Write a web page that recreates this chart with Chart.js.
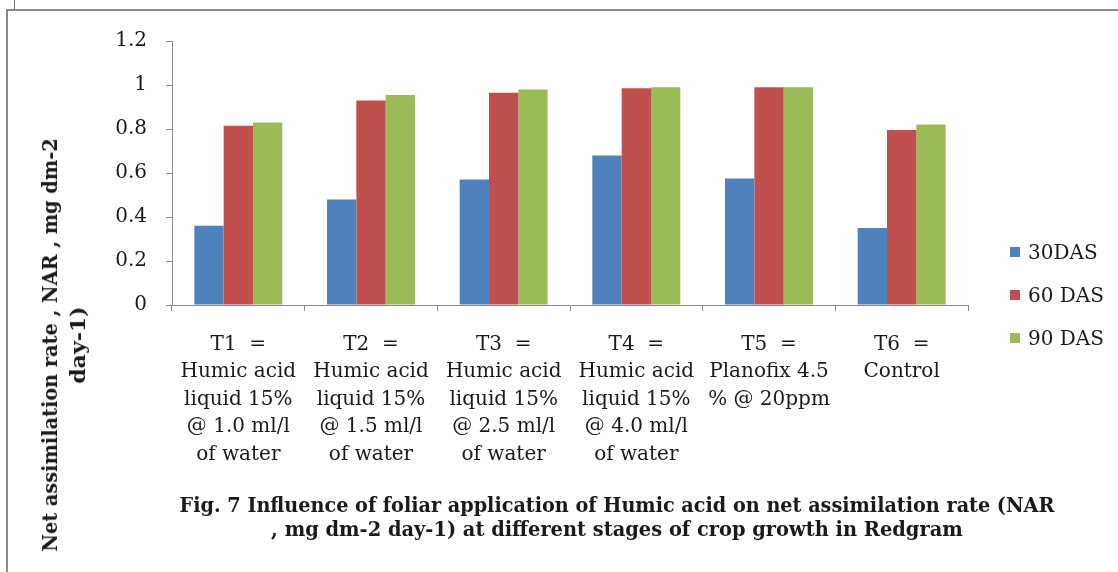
<!DOCTYPE html>
<html><head><meta charset="utf-8">
<script src="https://cdn.jsdelivr.net/npm/chart.js@4/dist/chart.umd.min.js"></script>
<style>
html,body{margin:0;padding:0;background:#fff;}
#wrap{position:relative;width:1118px;height:572px;overflow:hidden;font-family:"DejaVu Serif",serif;color:#1a1a1a;background:#fff;}
#c{position:absolute;left:0;top:0;}
.topline{position:absolute;left:6px;top:9px;width:1112px;height:2px;background:#8a8a8a;}
.leftline{position:absolute;left:6px;top:9px;width:2px;height:563px;background:#8a8a8a;}
.stub{position:absolute;left:14px;top:0;width:1px;height:9px;background:#777;}
.ytitle{position:absolute;left:64px;top:345px;transform:translate(-50%,-50%) rotate(-90deg);font-weight:bold;font-size:20px;line-height:28px;text-align:center;white-space:nowrap;}
.caption{position:absolute;left:617px;top:493px;transform:translateX(-50%);font-weight:bold;font-size:20px;line-height:24px;text-align:center;white-space:nowrap;}
.fit{display:block;}
.fit span{display:inline-block;transform-origin:center center;}
.legend{position:absolute;left:1010px;top:0;font-size:20px;}
.legend .item{position:absolute;left:0;white-space:nowrap;height:24px;line-height:24px;}
.legend .sw{position:absolute;left:0;top:7px;width:10px;height:10px;}
.legend .tx{position:absolute;left:18px;top:0;}
</style>
</head><body>
<div id="wrap">
  <canvas id="c" width="1118" height="572"></canvas>
  <div class="topline"></div>
  <div class="leftline"></div>
  <div class="stub"></div>
  <div class="ytitle" id="ytitle"></div>
  <div class="caption" id="caption"></div>
  <div class="legend" id="legend"></div>
</div>
<script>
// ---- data ----
const categories = [
  ["T1  =", "Humic acid", "liquid 15%", "@ 1.0 ml/l", "of water"],
  ["T2  =", "Humic acid", "liquid 15%", "@ 1.5 ml/l", "of water"],
  ["T3  =", "Humic acid", "liquid 15%", "@ 2.5 ml/l", "of water"],
  ["T4  =", "Humic acid", "liquid 15%", "@ 4.0 ml/l", "of water"],
  ["T5  =", "Planofix 4.5", "% @ 20ppm"],
  ["T6  =", "Control"]
];
const seriesNames = ["30DAS", "60 DAS", "90 DAS"];
const das30 = [0.36, 0.48, 0.57, 0.68, 0.575, 0.35];
const das60 = [0.815, 0.93, 0.965, 0.985, 0.99, 0.795];
const das90 = [0.83, 0.955, 0.98, 0.99, 0.99, 0.82];
const yTicks = [0, 0.2, 0.4, 0.6, 0.8, 1, 1.2];
const yTitleLines = ["Net assimilation rate , NAR , mg dm-2", "day-1)"];
const captionLines = ["Fig. 7 Influence of foliar application of Humic acid on net assimilation rate (NAR", ", mg dm-2 day-1) at different stages of crop growth in Redgram"];

// ---- styles ----
const colors = ["#4F81BD", "#C0504D", "#9BBB59"];
const axisColor = "#8a8a8a";
const tickFont = {family: "'DejaVu Serif', serif", size: 20, lineHeight: 1.375};

const values = [das30, das60, das90];
const chart = new Chart(document.getElementById('c'), {
  type: 'bar',
  data: {
    labels: categories,
    datasets: seriesNames.map((n, i) => ({
      label: n, data: values[i], backgroundColor: colors[i], borderWidth: 0,
      barPercentage: 1, categoryPercentage: 0.663
    }))
  },
  options: {
    responsive: false, animation: false,
    layout: {padding: {top: 41, right: 150, left: 0, bottom: 0}},
    plugins: {legend: {display: false}, title: {display: false}, tooltip: {enabled: false}},
    scales: {
      x: {
        grid: {display: true, drawOnChartArea: false, drawTicks: true, tickLength: 6, color: axisColor, offset: true},
        border: {color: axisColor, width: 1},
        ticks: {font: tickFont, color: '#1a1a1a', padding: 20, maxRotation: 0, minRotation: 0, autoSkip: false},
        afterFit(s) { s.height = 267; }
      },
      y: {
        min: 0, max: 1.2,
        afterBuildTicks(s) { s.ticks = yTicks.map(v => ({value: v})); },
        grid: {display: true, drawOnChartArea: false, drawTicks: true, tickLength: 6, color: axisColor},
        border: {color: axisColor, width: 1},
        ticks: {font: tickFont, color: '#1a1a1a', padding: 19, callback: v => String(Math.round(v * 10) / 10)},
        afterFit(s) { s.width = 172; }
      }
    }
  }
});

// ---- HTML text overlays ----
function fitLines(el, lines, widths) {
  lines.forEach((t, i) => {
    const d = document.createElement('div'); d.className = 'fit';
    const s = document.createElement('span'); s.textContent = t;
    d.appendChild(s); el.appendChild(d);
    const w = s.offsetWidth;
    s.style.transform = 'scaleX(' + (widths[i] / w) + ')';
  });
}
fitLines(document.getElementById('ytitle'), yTitleLines, [413, 77]);
fitLines(document.getElementById('caption'), captionLines, [875, 692]);

const legendCenters = [252, 295, 338];
const lg = document.getElementById('legend');
seriesNames.forEach((n, i) => {
  const it = document.createElement('div'); it.className = 'item';
  it.style.top = (legendCenters[i] - 12) + 'px';
  const sw = document.createElement('span'); sw.className = 'sw'; sw.style.background = colors[i];
  const tx = document.createElement('span'); tx.className = 'tx'; tx.textContent = n;
  it.appendChild(sw); it.appendChild(tx); lg.appendChild(it);
});
</script>
</body></html>
